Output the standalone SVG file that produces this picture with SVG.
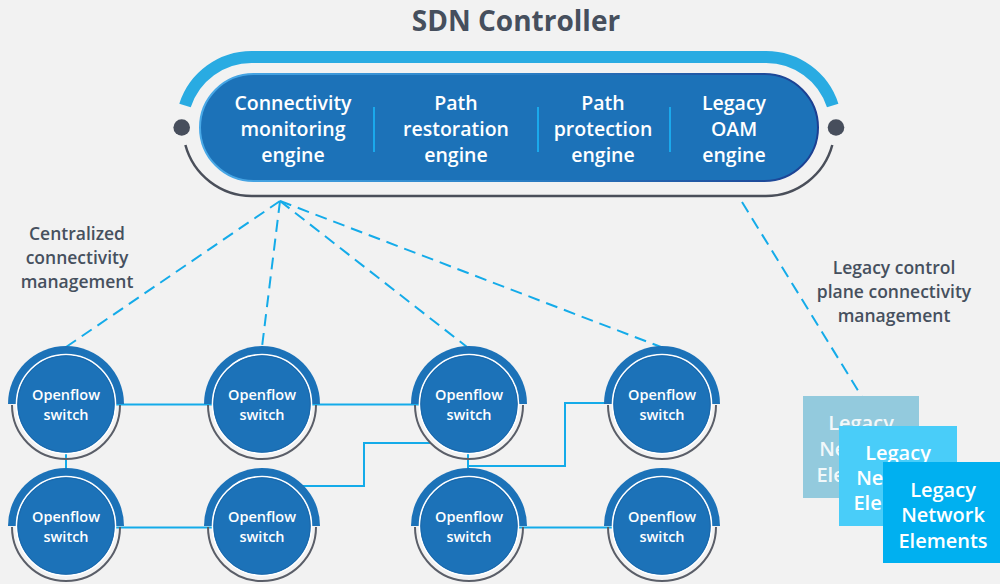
<svg xmlns="http://www.w3.org/2000/svg" width="1000" height="584" viewBox="0 0 1000 584">
  <defs>
    <linearGradient id="pillEdge" x1="0" y1="0" x2="1" y2="0">
      <stop offset="0" stop-color="#4aaae8"/>
      <stop offset="0.5" stop-color="#2a80c6"/>
      <stop offset="1" stop-color="#1b3f91"/>
    </linearGradient>
    <!-- visible parts of the stacked element cards -->
    <clipPath id="ne1Visible">
      <polygon points="803,396 919,396 919,426 839,426 839,498 803,498"/>
    </clipPath>
    <clipPath id="ne2Visible">
      <polygon points="839,426 957,426 957,462 883,462 883,526 839,526"/>
    </clipPath>
    <!-- switch node symbol, centred on 0,0 -->
    <g id="switchShape">
      <path d="M -58 0 A 58 58 0 0 1 58 0 Z" fill="#1c72b8"/>
      <path d="M -54 1 A 54 54 0 0 0 54 1" fill="none" stroke="#5a5e68" stroke-width="2"/>
      <circle r="49.5" fill="#1c72b8" stroke="#ffffff" stroke-width="1.6"/>
      <circle r="48.2" fill="none" stroke="#1a66a8" stroke-width="0.8"/>
    </g>
  </defs>
  <style>
    .bg { fill: #f2f2f2; }
    .title { font-family: "Open Sans", "Liberation Sans", sans-serif; font-weight: 700; font-size: 28px; fill: #464f5d; text-anchor: middle; }
    .eng { font-family: "Open Sans", "Liberation Sans", sans-serif; font-weight: 600; font-size: 19.5px; fill: #ffffff; text-anchor: middle; }
    .lbl { font-family: "Open Sans", "Liberation Sans", sans-serif; font-weight: 600; font-size: 17.5px; fill: #46505e; text-anchor: middle; }
    .sw { font-family: "Open Sans", "Liberation Sans", sans-serif; font-weight: 600; font-size: 14.5px; fill: #ffffff; text-anchor: middle; }
    .ne { font-family: "Open Sans", "Liberation Sans", sans-serif; font-weight: 600; font-size: 20px; fill: #ffffff; text-anchor: middle; }
    .link { fill: none; stroke: #14abe9; stroke-width: 2; }
    .ctl { fill: none; stroke: #14abe9; stroke-width: 2; stroke-dasharray: 12 7; }
    .divider { stroke: #1aa9ec; stroke-width: 2; }
  </style>

  <rect class="bg" x="0" y="0" width="1000" height="584"/>

  <text class="title" x="516" y="31">SDN Controller</text>

  <!-- controller -->
  <g id="sdn-controller">
    <path d="M 185 105.5 A 70 70 0 0 1 251.7 57 L 766 57 A 70 70 0 0 1 832.7 105.5" fill="none" stroke="#29abe2" stroke-width="12"/>
    <path d="M 185.4 145 A 69 69 0 0 0 251.7 196 L 766 196 A 69 69 0 0 0 832.3 145" fill="none" stroke="#4a4f5a" stroke-width="2.5"/>
    <circle cx="181.7" cy="127.5" r="8.3" fill="#474e5c"/>
    <circle cx="836" cy="127.5" r="8.3" fill="#474e5c"/>
    <rect x="200" y="74" width="618" height="107" rx="53.5" fill="#1c72b8" stroke="url(#pillEdge)" stroke-width="2"/>
    <line class="divider" x1="374" y1="107" x2="374" y2="152"/>
    <line class="divider" x1="538" y1="107" x2="538" y2="152"/>
    <line class="divider" x1="670" y1="107" x2="670" y2="152"/>
    <g id="engine-connectivity">
      <text class="eng" x="293" y="110">Connectivity</text>
      <text class="eng" x="293" y="136">monitoring</text>
      <text class="eng" x="293" y="162">engine</text>
    </g>
    <g id="engine-restoration">
      <text class="eng" x="456" y="110">Path</text>
      <text class="eng" x="456" y="136">restoration</text>
      <text class="eng" x="456" y="162">engine</text>
    </g>
    <g id="engine-protection">
      <text class="eng" x="603" y="110">Path</text>
      <text class="eng" x="603" y="136">protection</text>
      <text class="eng" x="603" y="162">engine</text>
    </g>
    <g id="engine-oam">
      <text class="eng" x="734" y="110">Legacy</text>
      <text class="eng" x="734" y="136">OAM</text>
      <text class="eng" x="734" y="162">engine</text>
    </g>
  </g>

  <!-- annotations -->
  <g id="label-centralized">
    <text class="lbl" x="77" y="240">Centralized</text>
    <text class="lbl" x="77" y="264">connectivity</text>
    <text class="lbl" x="77" y="288">management</text>
  </g>
  <g id="label-legacy">
    <text class="lbl" x="894" y="274">Legacy control</text>
    <text class="lbl" x="894" y="298">plane connectivity</text>
    <text class="lbl" x="894" y="322">management</text>
  </g>

  <!-- connectors -->
  <g id="connectors">
    <line class="ctl" x1="280" y1="201" x2="66" y2="347"/>
    <line class="ctl" x1="280" y1="201" x2="262" y2="347"/>
    <line class="ctl" x1="280" y1="201" x2="467" y2="347"/>
    <line class="ctl" x1="280" y1="201" x2="661" y2="347"/>
    <line class="ctl" x1="742" y1="202" x2="862" y2="397"/>

    <line class="link" x1="100" y1="404.5" x2="230" y2="404.5"/>
    <line class="link" x1="300" y1="404.5" x2="440" y2="404.5"/>
    <line class="link" x1="66" y1="450" x2="66" y2="480"/>
    <line class="link" x1="100" y1="527.5" x2="230" y2="527.5"/>
    <polyline class="link" points="290,486 364,486 364,443 431,443"/>
    <line class="link" x1="468" y1="450" x2="468" y2="480"/>
    <polyline class="link" points="468,466 565,466 565,403 620,403"/>
    <line class="link" x1="500" y1="527.5" x2="630" y2="527.5"/>
  </g>

  <!-- openflow switches -->
  <g id="switch-1" transform="translate(66,404)">
    <use href="#switchShape"/>
    <text class="sw" x="0" y="-4">Openflow</text>
    <text class="sw" x="0" y="16">switch</text>
  </g>
  <g id="switch-2" transform="translate(262,404)">
    <use href="#switchShape"/>
    <text class="sw" x="0" y="-4">Openflow</text>
    <text class="sw" x="0" y="16">switch</text>
  </g>
  <g id="switch-3" transform="translate(469,404)">
    <use href="#switchShape"/>
    <text class="sw" x="0" y="-4">Openflow</text>
    <text class="sw" x="0" y="16">switch</text>
  </g>
  <g id="switch-4" transform="translate(662,404)">
    <use href="#switchShape"/>
    <text class="sw" x="0" y="-4">Openflow</text>
    <text class="sw" x="0" y="16">switch</text>
  </g>
  <g id="switch-5" transform="translate(66,526)">
    <use href="#switchShape"/>
    <text class="sw" x="0" y="-4">Openflow</text>
    <text class="sw" x="0" y="16">switch</text>
  </g>
  <g id="switch-6" transform="translate(262,526)">
    <use href="#switchShape"/>
    <text class="sw" x="0" y="-4">Openflow</text>
    <text class="sw" x="0" y="16">switch</text>
  </g>
  <g id="switch-7" transform="translate(469,526)">
    <use href="#switchShape"/>
    <text class="sw" x="0" y="-4">Openflow</text>
    <text class="sw" x="0" y="16">switch</text>
  </g>
  <g id="switch-8" transform="translate(662,526)">
    <use href="#switchShape"/>
    <text class="sw" x="0" y="-4">Openflow</text>
    <text class="sw" x="0" y="16">switch</text>
  </g>

  <!-- stacked legacy network elements -->
  <g id="legacy-ne-1">
    <rect x="803" y="396" width="116" height="102" fill="#93cadd"/>
    <g clip-path="url(#ne1Visible)">
      <text class="ne" x="861" y="430" fill-opacity="0.9">Legacy</text>
      <text class="ne" x="861" y="456" fill-opacity="0.9">Network</text>
      <text class="ne" x="861" y="482" fill-opacity="0.9">Elements</text>
    </g>
  </g>
  <g id="legacy-ne-2">
    <rect x="839" y="426" width="118" height="100" fill="#49cdf9"/>
    <g clip-path="url(#ne2Visible)">
      <text class="ne" x="898" y="460">Legacy</text>
      <text class="ne" x="898" y="485">Network</text>
      <text class="ne" x="898" y="510">Elements</text>
    </g>
  </g>
  <g id="legacy-ne-3">
    <rect x="883" y="462" width="117" height="101" fill="#00b0f0"/>
    <text class="ne" x="943" y="497">Legacy</text>
    <text class="ne" x="943" y="522">Network</text>
    <text class="ne" x="943" y="548">Elements</text>
  </g>
</svg>
